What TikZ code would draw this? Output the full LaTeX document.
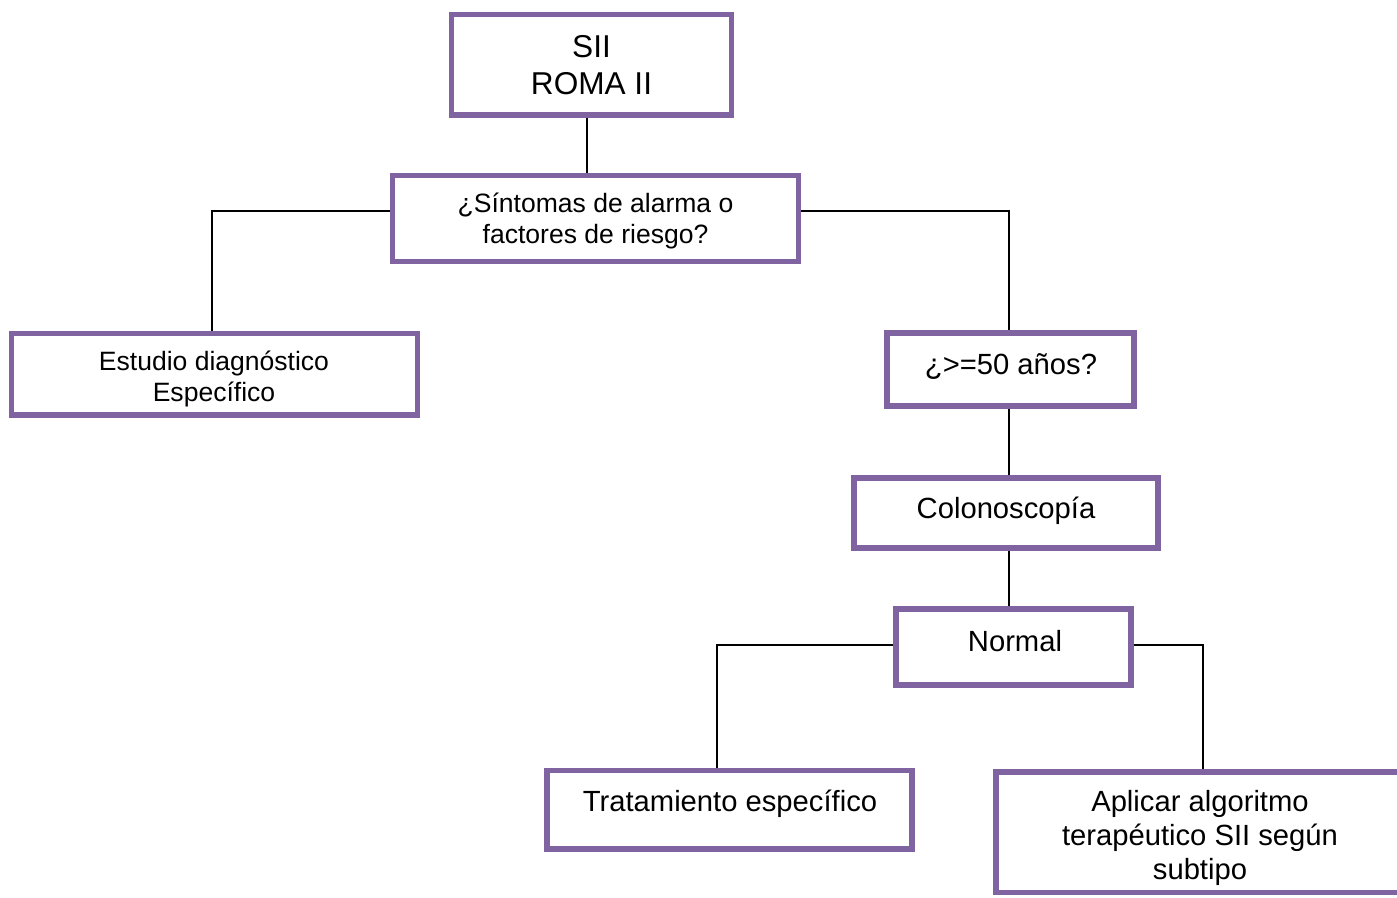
\documentclass[tikz,border=0pt]{standalone}
\usepackage{fontspec}
\setmainfont{Liberation Sans}
\usetikzlibrary{fit,calc}
\definecolor{boxpurple}{HTML}{8064A2}
\tikzset{
  box/.style={draw=boxpurple, line width=4pt, inner sep=0pt, fill=white},
  conn/.style={draw=black, line width=1.1pt},
  small/.style={align=center, font=\fontsize{19.9}{23.25}\selectfont, inner sep=0pt},
  medium/.style={align=center, font=\fontsize{21.9}{25.5}\selectfont, inner sep=0pt},
  large/.style={align=center, font=\fontsize{23.7}{27.75}\selectfont, inner sep=0pt},
}
\begin{document}
\begin{tikzpicture}[x=0.75pt, y=-0.75pt]
\useasboundingbox (0,0) rectangle (1397,898);
% boxes
\node[box, fit={(451.5,14.5)(731.5,115)}] (top) {};
\node[box, fit={(392.5,175.5)(798.5,261.5)}] (q) {};
\node[box, fit={(11.5,333.5)(417.5,415)}] (est) {};
\node[box, fit={(887,333)(1134,406)}] (age) {};
\node[box, fit={(854,478)(1158,548)}] (colo) {};
\node[box, fit={(896,609)(1131,685)}] (norm) {};
\node[box, fit={(547,770.5)(912,849)}] (trat) {};
\node[box, fit={(996,772)(1402,892.5)}] (apl) {};
% connectors
\draw[conn] ($(top.south)+(-4.5,0)$) -- ($(top.south |- q.north)+(-4.5,0)$);
\draw[conn] ($(q.west)+(0,-7.5)$) -| ($(est.north)+(-2.5,0)$);
\draw[conn] ($(q.east)+(0,-7.5)$) -| ($(age.north)+(-1.5,0)$);
\draw[conn] ($(age.south)+(-1.5,0)$) -- ($(age.south |- colo.north)+(-1.5,0)$);
\draw[conn] ($(age.south |- colo.south)+(-1.5,0)$) -- ($(age.south |- norm.north)+(-1.5,0)$);
\draw[conn] ($(norm.west)+(0,-2)$) -| ($(trat.north)+(-12.5,0)$);
\draw[conn] ($(norm.east)+(0,-2)$) -| ($(apl.north)+(4,0)$);
% texts
\node[large] (topt) at (591.5,65.5) {SII\\ROMA II};
\node[small] (qt) at (595.5,221) {¿Síntomas de alarma o\\factores de riesgo?};
\node[small] (estt) at (214,379) {Estudio diagnóstico\\Específico};
\node[medium] (aget) at (1011,367) {¿>=50 años?};
\node[medium] (colot) at (1006,511) {Colonoscopía};
\node[medium] (normt) at (1015,641) {Normal};
\node[medium] (tratt) at (730,804) {Tratamiento específico};
\node[medium] (aplt) at (1200,838) {Aplicar algoritmo\\terapéutico SII según\\subtipo};
\end{tikzpicture}
\end{document}
